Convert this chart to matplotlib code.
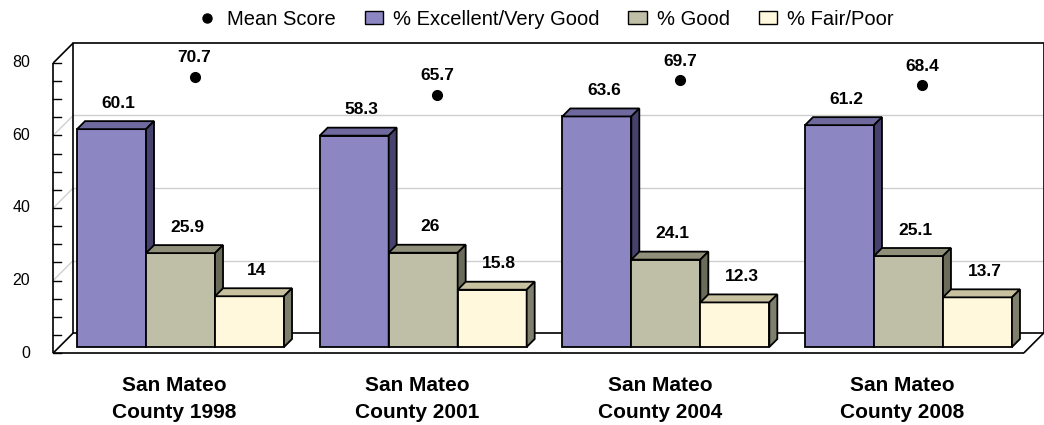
import numpy as np
import matplotlib
matplotlib.use("Agg")
import matplotlib.pyplot as plt
from matplotlib.patches import Polygon, Patch
from matplotlib.lines import Line2D

plt.rcParams['font.family'] = ['Liberation Sans', 'DejaVu Sans']

# survey results
categories = ["San Mateo\nCounty 1998", "San Mateo\nCounty 2001",
              "San Mateo\nCounty 2004", "San Mateo\nCounty 2008"]
mean_score = [70.7, 65.7, 69.7, 68.4]
excellent = [60.1, 58.3, 63.6, 61.2]
good = [25.9, 26, 24.1, 25.1]
fair_poor = [14, 15.8, 12.3, 13.7]

series = [excellent, good, fair_poor]
series_names = ["% Excellent/Very Good", "% Good", "% Fair/Poor"]
# front, top, side shades
shades = [("#8C87C3", "#6E6A9E", "#45426E"),
          ("#BFBFA8", "#8F8F7A", "#6B6B5A"),
          ("#FFF8DC", "#C7C1A0", "#7F7F6E")]

yticks = np.arange(0, 81, 20)
yminor = np.arange(0, 81, 5)

W, H = 1044, 425
fig = plt.figure(figsize=(W / 100, H / 100), dpi=100)
# axes covers the plane of the bar fronts
ax = fig.add_axes([59.2 / W, (H - 347) / H, (1029.8 - 59.2) / W, 290 / H])
ax.set_xlim(-0.5, 3.5)
ax.set_ylim(0, 80)
ax.axis('off')

# pixel -> data scale for the depth offsets
sx = ax.transData.transform((1, 0))[0] - ax.transData.transform((0, 0))[0]
sy = ax.transData.transform((0, 1))[1] - ax.transData.transform((0, 0))[1]
def off(px):
    return px / sx, px / sy

fx, fy = off(-6)    # front edge of the floor
bx, by = off(14)    # back wall
dx, dy = off(8)     # bar depth

x0, x1 = -0.5, 3.5
top = yticks[-1]
kw = dict(color="black", lw=1.2, clip_on=False, solid_capstyle='butt')
grid_kw = dict(color="#cfcfcf", lw=1, clip_on=False)

# back wall grid and left wall grid
for v in yticks[1:-1]:
    ax.plot([x0 + bx, x1 + bx], [v + by, v + by], zorder=1, **grid_kw)
    ax.plot([x0 + fx, x0 + bx], [v + fy, v + by], zorder=1, **grid_kw)

# frame of the box
ax.plot([x0 + bx, x1 + bx, x1 + bx, x0 + bx, x0 + bx],
        [by, by, top + by, top + by, by], zorder=2, **kw)
ax.plot([x0 + fx, x0 + fx], [fy, top + fy], zorder=2, **kw)
ax.plot([x0 + fx, x1 + fx], [fy, fy], zorder=5, **kw)
ax.plot([x0 + fx, x0 + bx], [top + fy, top + by], zorder=2, **kw)
ax.plot([x0 + fx, x0 + bx], [fy, by], zorder=2, **kw)
ax.plot([x1 + fx, x1 + bx], [fy, by], zorder=2, **kw)

# ticks on the front axis
tick_len = 8 / sx
for v in yminor:
    ax.plot([x0 + fx, x0 + fx + tick_len], [v + fy, v + fy], zorder=2,
            color="black", lw=1, clip_on=False)
for v in yticks:
    ax.annotate(f"{v}", (x0 + fx, v + fy), xytext=(-23, 0),
                textcoords='offset pixels', ha='right', va='center',
                fontsize=11.5, annotation_clip=False)

# 3D bars
width = 69 / sx
for k, (vals, (c_front, c_top, c_side)) in enumerate(zip(series, shades)):
    for i, v in enumerate(vals):
        left = i + (k - 1.5) * width
        right = left + width
        ax.add_patch(Polygon([(left, 0), (right, 0), (right, v), (left, v)],
                             closed=True, fc=c_front, ec="black", lw=1.3,
                             zorder=3, clip_on=False))
        ax.add_patch(Polygon([(left, v), (right, v), (right + dx, v + dy),
                              (left + dx, v + dy)], closed=True, fc=c_top,
                             ec="black", lw=1.3, zorder=3, clip_on=False))
        ax.add_patch(Polygon([(right, 0), (right + dx, dy), (right + dx, v + dy),
                              (right, v)], closed=True, fc=c_side,
                             ec="black", lw=1.3, zorder=3, clip_on=False))
        ax.annotate(f"{v:g}", ((left + right) / 2, v), xytext=(7, 26),
                    textcoords='offset pixels', ha='center', va='center',
                    fontsize=12.5, fontweight='bold', zorder=6,
                    annotation_clip=False)

# mean scores sit on the back wall
xs = np.arange(len(categories))
ax.plot(xs + bx, np.array(mean_score) + by, 'o', color="black", ms=7,
        zorder=4, clip_on=False)
for i, m in enumerate(mean_score):
    ax.annotate(f"{m:g}", (i + bx, m + by), xytext=(0, 19),
                textcoords='offset pixels', ha='center', va='center',
                fontsize=12.5, fontweight='bold', zorder=6,
                annotation_clip=False)

# category labels under the floor
for i, name in enumerate(categories):
    ax.annotate(name, (i + fx, fy), xytext=(0, -23),
                textcoords='offset pixels', ha='center', va='top',
                fontsize=15, fontweight='bold', linespacing=1.5,
                annotation_clip=False)

handles = [Line2D([], [], ls='none', marker='o', color='black', ms=6.5)]
handles += [Patch(fc=s[0], ec="black", lw=1) for s in shades]
fig.legend(handles, ["Mean Score"] + series_names, loc='upper center',
           bbox_to_anchor=(546 / W, 1.02), ncol=4, frameon=False,
           fontsize=14.5, handlelength=0.9, handleheight=0.55,
           handletextpad=0.5, columnspacing=1.45)

fig.savefig("out.png", dpi=100)
